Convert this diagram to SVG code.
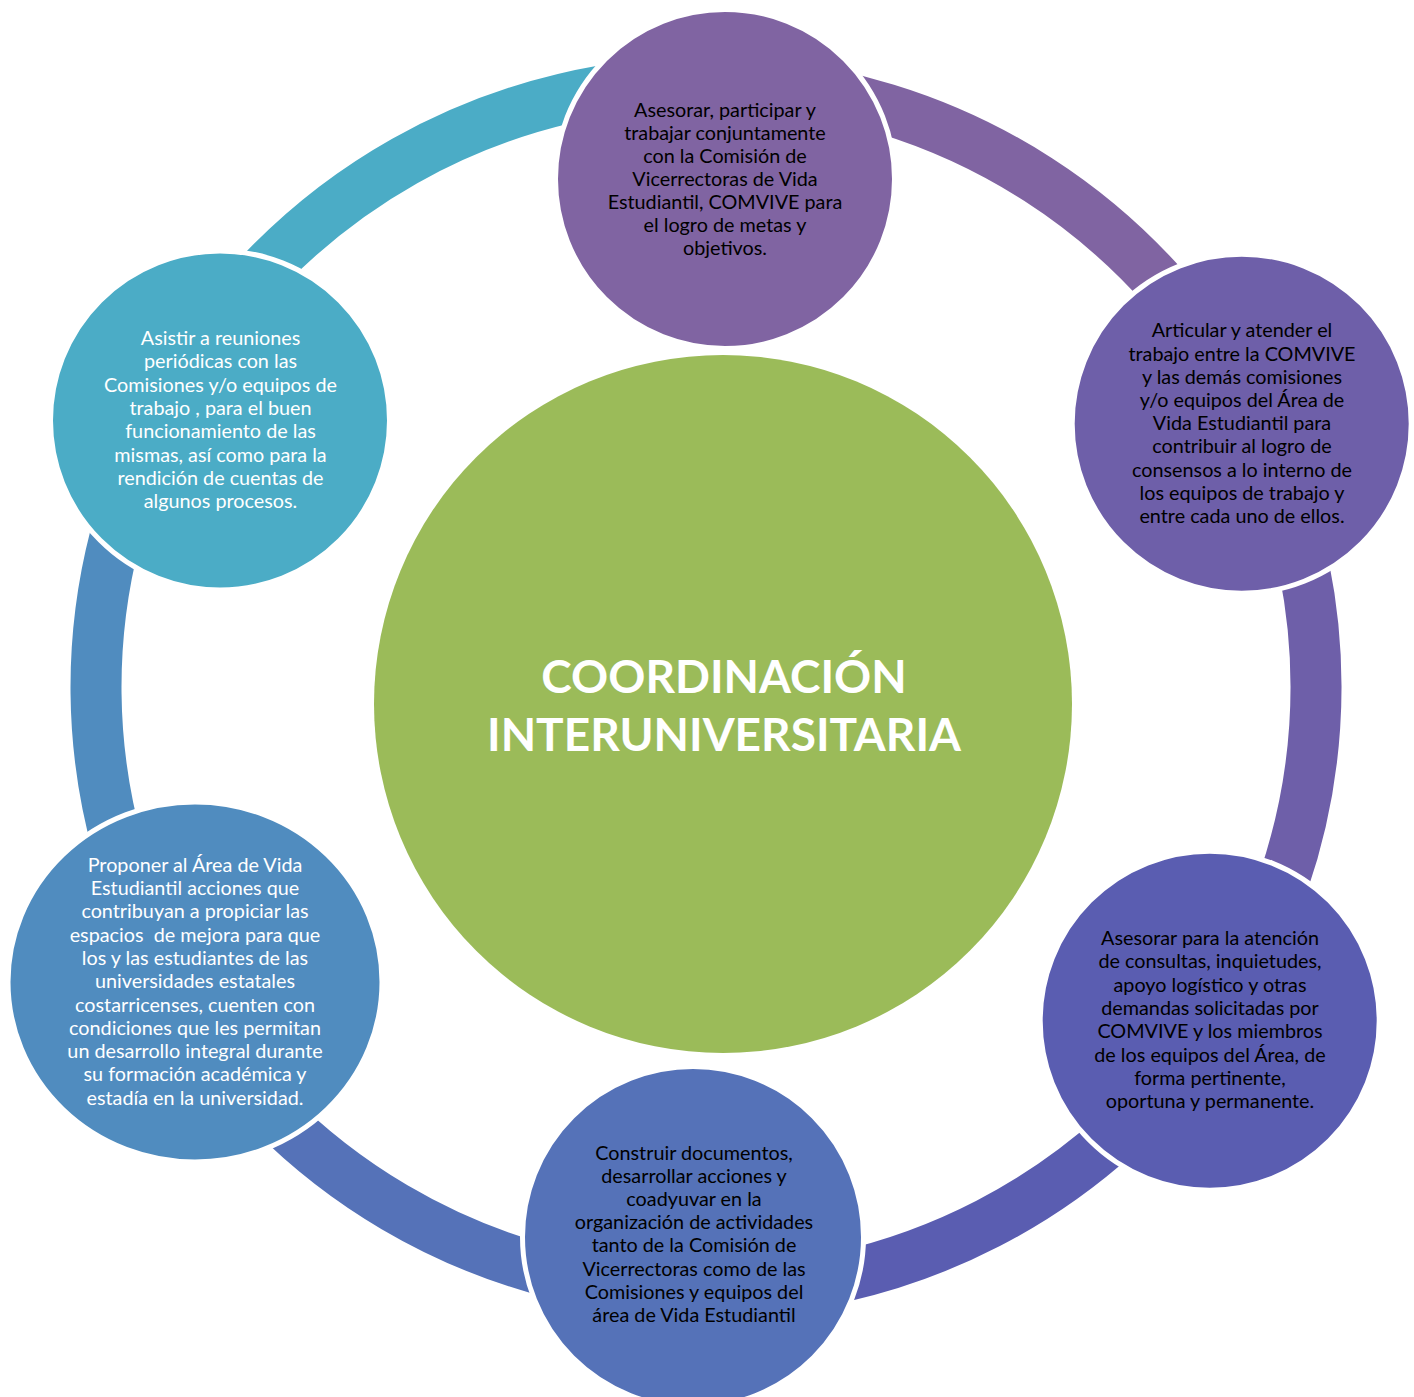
<svg xmlns="http://www.w3.org/2000/svg" width="1414" height="1397" viewBox="0 0 1414 1397">
<style>
.arc{fill:none;stroke-width:51}
.node{stroke:#fff;stroke-width:5}
.t{font-family:Lato,"Liberation Sans",sans-serif;font-size:19.8px;text-anchor:middle}
.dark{fill:#000}
.light{fill:#fff}
.title{font-family:Lato,"Liberation Sans",sans-serif;font-weight:bold;font-size:46px;fill:#fff;text-anchor:middle}
</style>
<rect width="1414" height="1397" fill="#fff"/>
<g id="connectors">
<path class="arc" stroke="#4BACC6" d="M171.5,395.5 A610,605 0 0 1 727.3,82.4"/>
<path class="arc" stroke="#8064A2" d="M727.3,82.4 A610,605 0 0 1 1254.3,421.8"/>
<path class="arc" stroke="#6E5FA9" d="M1254.3,421.8 A610,605 0 0 1 1214.7,1020.9"/>
<path class="arc" stroke="#5A5DB1" d="M1214.7,1020.9 A610,605 0 0 1 691.1,1291.8"/>
<path class="arc" stroke="#5572B8" d="M691.1,1291.8 A610,605 0 0 1 177.7,989.5"/>
<path class="arc" stroke="#508CBF" d="M177.7,989.5 A610,605 0 0 1 171.5,395.5"/>
</g>
<g id="center">
<circle cx="723" cy="704" r="349" fill="#9BBB59"/>
<text class="title"><tspan x="724" y="693">COORDINACIÓN</tspan><tspan x="724" y="751">INTERUNIVERSITARIA</tspan></text>
</g>
<g id="node-top">
<circle class="node" cx="725" cy="179" r="169.5" fill="#8064A2"/>
<text class="t dark"><tspan x="725" y="116.5">Asesorar, participar y</tspan><tspan x="725" y="139.6">trabajar conjuntamente</tspan><tspan x="725" y="162.7">con la Comisión de</tspan><tspan x="725" y="185.8">Vicerrectoras de Vida</tspan><tspan x="725" y="208.9">Estudiantil, COMVIVE para</tspan><tspan x="725" y="232">el logro de metas y</tspan><tspan x="725" y="255.1">objetivos.</tspan></text>
</g>
<g id="node-upper-right">
<circle class="node" cx="1241.7" cy="423.7" r="169.5" fill="#6E5FA9"/>
<text class="t dark"><tspan x="1242" y="337.3">Articular y atender el</tspan><tspan x="1242" y="360.5">trabajo entre la COMVIVE</tspan><tspan x="1242" y="383.7">y las demás comisiones</tspan><tspan x="1242" y="406.9">y/o equipos del Área de</tspan><tspan x="1242" y="430.1">Vida Estudiantil para</tspan><tspan x="1242" y="453.3">contribuir al logro de</tspan><tspan x="1242" y="476.5">consensos a lo interno de</tspan><tspan x="1242" y="499.7">los equipos de trabajo y</tspan><tspan x="1242" y="522.9">entre cada uno de ellos.</tspan></text>
</g>
<g id="node-lower-right">
<circle class="node" cx="1209.7" cy="1020.7" r="169.5" fill="#5A5DB1"/>
<text class="t dark"><tspan x="1210" y="945">Asesorar para la atención</tspan><tspan x="1210" y="968.3">de consultas, inquietudes,</tspan><tspan x="1210" y="991.6">apoyo logístico y otras</tspan><tspan x="1210" y="1014.9">demandas solicitadas por</tspan><tspan x="1210" y="1038.2">COMVIVE y los miembros</tspan><tspan x="1210" y="1061.5">de los equipos del Área, de</tspan><tspan x="1210" y="1084.8">forma pertinente,</tspan><tspan x="1210" y="1108.1">oportuna y permanente.</tspan></text>
</g>
<g id="node-bottom">
<circle class="node" cx="693" cy="1237" r="170.5" fill="#5572B8"/>
<text class="t dark"><tspan x="694" y="1160">Construir documentos,</tspan><tspan x="694" y="1183.1">desarrollar acciones y</tspan><tspan x="694" y="1206.2">coadyuvar en la</tspan><tspan x="694" y="1229.3">organización de actividades</tspan><tspan x="694" y="1252.4">tanto de la Comisión de</tspan><tspan x="694" y="1275.5">Vicerrectoras como de las</tspan><tspan x="694" y="1298.6">Comisiones y equipos del</tspan><tspan x="694" y="1321.7">área de Vida Estudiantil</tspan></text>
</g>
<g id="node-lower-left">
<ellipse class="node" cx="195" cy="982" rx="187" ry="180" fill="#508CBF"/>
<text class="t light" xml:space="preserve"><tspan x="195" y="871.7">Proponer al Área de Vida</tspan><tspan x="195" y="895">Estudiantil acciones que</tspan><tspan x="195" y="918.3">contribuyan a propiciar las</tspan><tspan x="195" y="941.6">espacios  de mejora para que</tspan><tspan x="195" y="964.9">los y las estudiantes de las</tspan><tspan x="195" y="988.2">universidades estatales</tspan><tspan x="195" y="1011.5">costarricenses, cuenten con</tspan><tspan x="195" y="1034.8">condiciones que les permitan</tspan><tspan x="195" y="1058.1">un desarrollo integral durante</tspan><tspan x="195" y="1081.4">su formación académica y</tspan><tspan x="195" y="1104.7">estadía en la universidad.</tspan></text>
</g>
<g id="node-upper-left">
<circle class="node" cx="220" cy="420.5" r="169.5" fill="#4BACC6"/>
<text class="t light"><tspan x="220.5" y="345">Asistir a reuniones</tspan><tspan x="220.5" y="368.3">periódicas con las</tspan><tspan x="220.5" y="391.6">Comisiones y/o equipos de</tspan><tspan x="220.5" y="414.9">trabajo , para el buen</tspan><tspan x="220.5" y="438.2">funcionamiento de las</tspan><tspan x="220.5" y="461.5">mismas, así como para la</tspan><tspan x="220.5" y="484.8">rendición de cuentas de</tspan><tspan x="220.5" y="508.1">algunos procesos.</tspan></text>
</g>
</svg>
